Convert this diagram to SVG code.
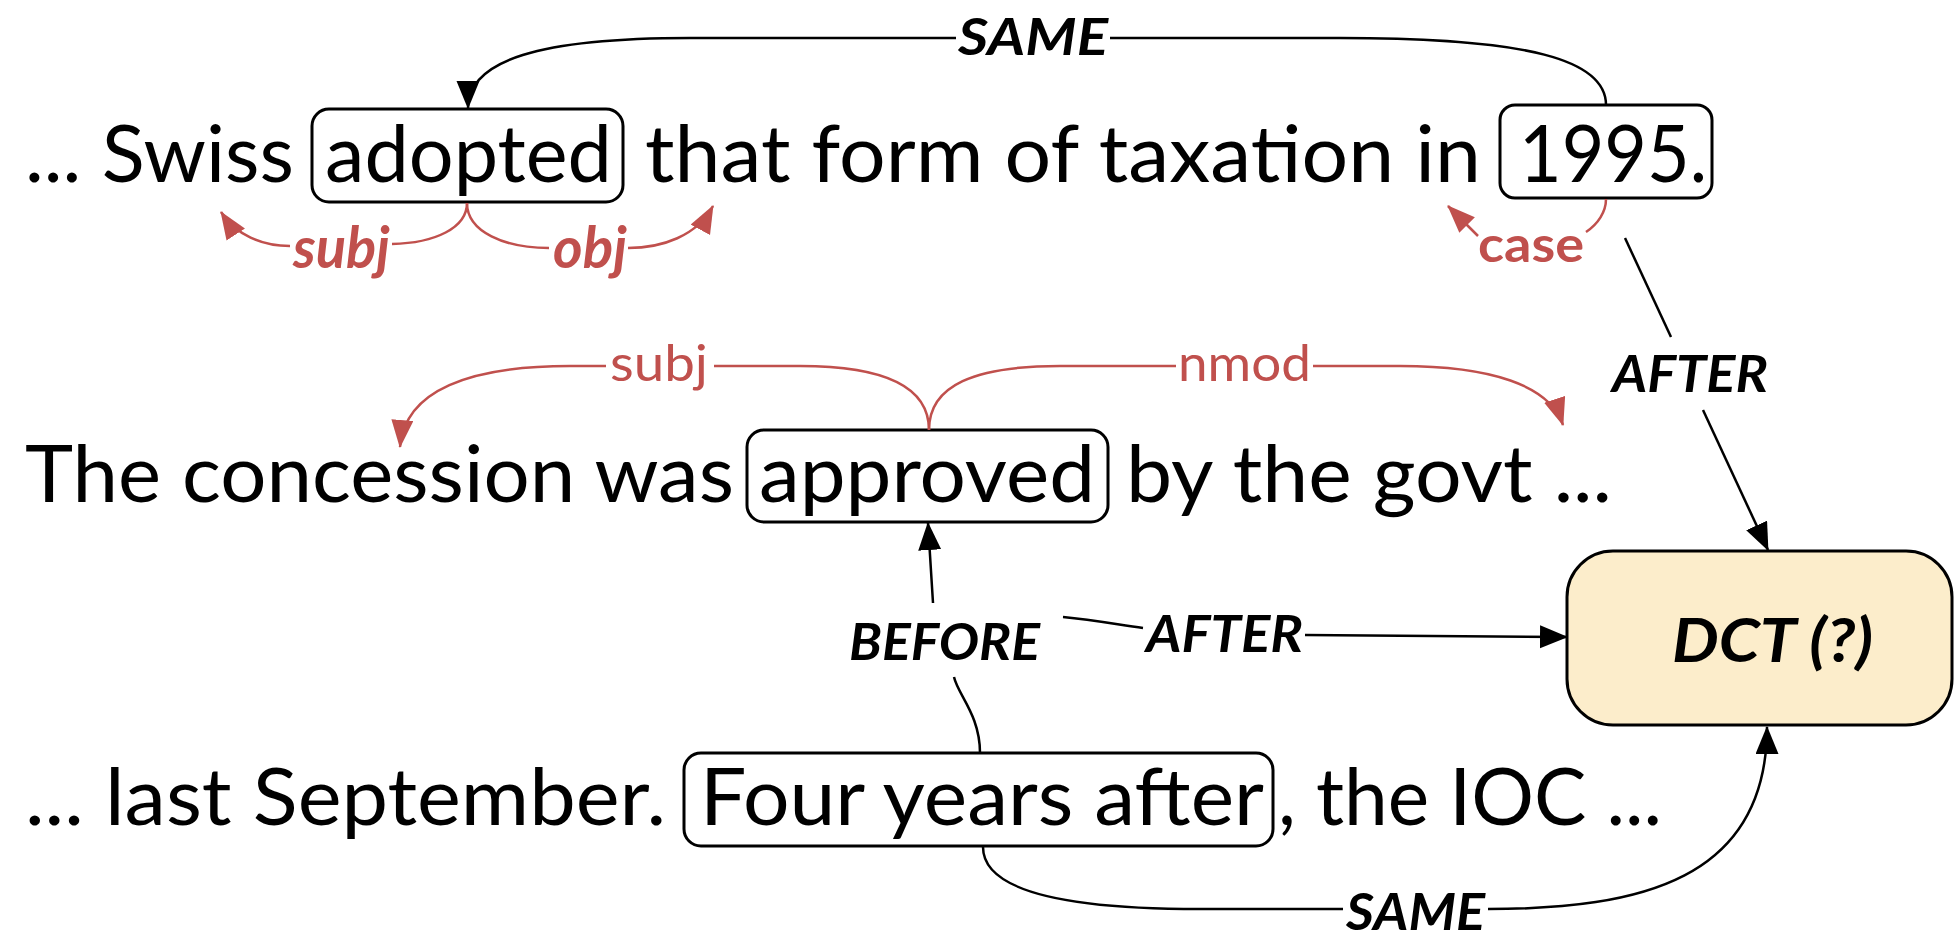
<svg xmlns="http://www.w3.org/2000/svg" width="1957" height="935" viewBox="0 0 1957 935">
  <defs>
    <marker id="arrow-black" markerUnits="userSpaceOnUse" markerWidth="30" markerHeight="26" refX="27" refY="11.5" orient="auto">
      <path d="M0,0 L28,11.5 L0,23 z" fill="#000"/>
    </marker>
    <marker id="arrow-red" markerUnits="userSpaceOnUse" markerWidth="30" markerHeight="26" refX="27" refY="11" orient="auto">
      <path d="M0,0 L28,11 L0,22 z" fill="#C0504D"/>
    </marker>
    <style>
      .sent { font-family: Lato, "Open Sans", "Liberation Sans", sans-serif; font-size: 80px; fill: #000; }
      .box { fill: none; stroke: #000; stroke-width: 3; }
      .rel { fill: none; stroke: #000; stroke-width: 2.5; }
      .dep { fill: none; stroke: #C0504D; stroke-width: 2.5; }
      .rel-end { marker-end: url(#arrow-black); }
      .dep-end { marker-end: url(#arrow-red); }
      .rlabel { font-family: Lato, "Open Sans", "Liberation Sans", sans-serif; font-size: 52px; font-weight: 700; font-style: italic; fill: #000; }
      .dlabel { font-family: Lato, "Open Sans", "Liberation Sans", sans-serif; font-size: 50px; fill: #C0504D; }
      .dlabel-bi { font-size: 57px; font-weight: 700; font-style: italic; }
      .dlabel-b { font-weight: 700; }
      .dct-box { fill: #FCEDCB; stroke: #000; stroke-width: 3; }
      .dct-text { font-family: Lato, "Open Sans", "Liberation Sans", sans-serif; font-size: 61px; font-weight: 700; font-style: italic; fill: #000; }
    </style>
  </defs>

  <rect width="1957" height="935" fill="#fff"/>

  <!-- sentence 1 -->
  <g id="sentence-1">
    <text class="sent" x="25" y="182" textLength="269" lengthAdjust="spacingAndGlyphs">... Swiss</text>
    <text class="sent" x="645" y="182" textLength="836" lengthAdjust="spacingAndGlyphs">that form of taxation in</text>
  </g>
  <g id="node-adopted">
    <rect class="box" x="312" y="109" width="311" height="93" rx="17"/>
    <text class="sent" x="325" y="182" textLength="287" lengthAdjust="spacingAndGlyphs">adopted</text>
  </g>
  <g id="node-1995">
    <rect class="box" x="1500" y="105" width="212" height="93" rx="15"/>
    <text class="sent" x="1519" y="182" textLength="188" lengthAdjust="spacingAndGlyphs">1995.</text>
  </g>

  <!-- sentence 2 -->
  <g id="sentence-2">
    <text class="sent" x="25" y="502" textLength="709" lengthAdjust="spacingAndGlyphs">The concession was</text>
    <text class="sent" x="1126" y="502" textLength="486" lengthAdjust="spacingAndGlyphs">by the govt ...</text>
  </g>
  <g id="node-approved">
    <rect class="box" x="747" y="430" width="361" height="92" rx="17"/>
    <text class="sent" x="759" y="502" textLength="336" lengthAdjust="spacingAndGlyphs">approved</text>
  </g>

  <!-- sentence 3 -->
  <g id="sentence-3">
    <text class="sent" x="25" y="825" textLength="641" lengthAdjust="spacingAndGlyphs">... last September.</text>
    <text class="sent" x="1278" y="825" textLength="384" lengthAdjust="spacingAndGlyphs">, the IOC ...</text>
  </g>
  <g id="node-four-years-after">
    <rect class="box" x="684" y="753" width="589" height="93" rx="17"/>
    <text class="sent" x="700" y="825" textLength="564" lengthAdjust="spacingAndGlyphs">Four years after</text>
  </g>

  <!-- document creation time -->
  <g id="node-dct">
    <rect class="dct-box" x="1567" y="551" width="385" height="174" rx="46"/>
    <text class="dct-text" x="1672" y="662" textLength="201" lengthAdjust="spacingAndGlyphs">DCT (?)</text>
  </g>

  <!-- dependency arcs and temporal relations -->
  <g id="connectors">
    <!-- adopted -subj-> / -obj-> -->
    <path class="dep" d="M467,203 C467,228 435,243 392,244"/>
    <path class="dep dep-end" d="M290,246 C262,246 236,235 221,212"/>
    <path class="dep" d="M467,203 C467,232 505,248 549,248"/>
    <path class="dep dep-end" d="M628,248 C662,248 697,236 713,206"/>
    <!-- 1995 -case-> -->
    <path class="dep" d="M1606,199 C1606,212 1598,224 1586,232"/>
    <path class="dep dep-end" d="M1478,236 L1448,206"/>
    <!-- approved -subj-> / -nmod-> -->
    <path class="dep" d="M929,430 C929,385 880,366 800,366 L714,366"/>
    <path class="dep dep-end" d="M606,366 L570,366 C470,366 405,390 400,447"/>
    <path class="dep" d="M929,430 C929,385 975,366 1060,366 L1176,366"/>
    <path class="dep dep-end" d="M1313,366 L1400,366 C1490,366 1550,385 1563,425"/>

    <!-- 1995 SAME adopted -->
    <path class="rel" d="M1606,105 C1606,60 1530,38 1340,38 L1110,38"/>
    <path class="rel rel-end" d="M956,38 L690,38 C540,38 468,60 468,108"/>
    <!-- 1995 AFTER DCT -->
    <path class="rel" d="M1625,238 L1671,337"/>
    <path class="rel rel-end" d="M1703,410 L1768,550"/>
    <!-- four years after BEFORE approved -->
    <path class="rel" d="M980,753 C980,715 958,695 954,677"/>
    <path class="rel rel-end" d="M933,603 L928,523"/>
    <!-- approved AFTER DCT -->
    <path class="rel" d="M1063,617 C1095,620 1120,625 1143,628"/>
    <path class="rel rel-end" d="M1305,635 L1567,637"/>
    <!-- four years after SAME DCT -->
    <path class="rel" d="M983,847 C983,895 1080,909 1200,909 L1343,909"/>
    <path class="rel rel-end" d="M1488,909 C1640,909 1767,880 1767,727"/>

    <!-- labels -->
    <text class="dlabel dlabel-bi" x="293" y="268" textLength="97" lengthAdjust="spacingAndGlyphs">subj</text>
    <text class="dlabel dlabel-bi" x="553" y="268" textLength="74" lengthAdjust="spacingAndGlyphs">obj</text>
    <text class="dlabel dlabel-b" x="1478" y="262" textLength="106" lengthAdjust="spacingAndGlyphs">case</text>
    <text class="dlabel" x="610" y="381" textLength="98" lengthAdjust="spacingAndGlyphs">subj</text>
    <text class="dlabel" x="1178" y="381" textLength="133" lengthAdjust="spacingAndGlyphs">nmod</text>

    <text class="rlabel" x="958" y="55" textLength="150" lengthAdjust="spacingAndGlyphs">SAME</text>
    <text class="rlabel" x="1612" y="392" textLength="156" lengthAdjust="spacingAndGlyphs">AFTER</text>
    <text class="rlabel" x="849" y="660" textLength="191" lengthAdjust="spacingAndGlyphs">BEFORE</text>
    <text class="rlabel" x="1146" y="652" textLength="157" lengthAdjust="spacingAndGlyphs">AFTER</text>
    <text class="rlabel" x="1346" y="930" textLength="139" lengthAdjust="spacingAndGlyphs">SAME</text>
  </g>
</svg>
